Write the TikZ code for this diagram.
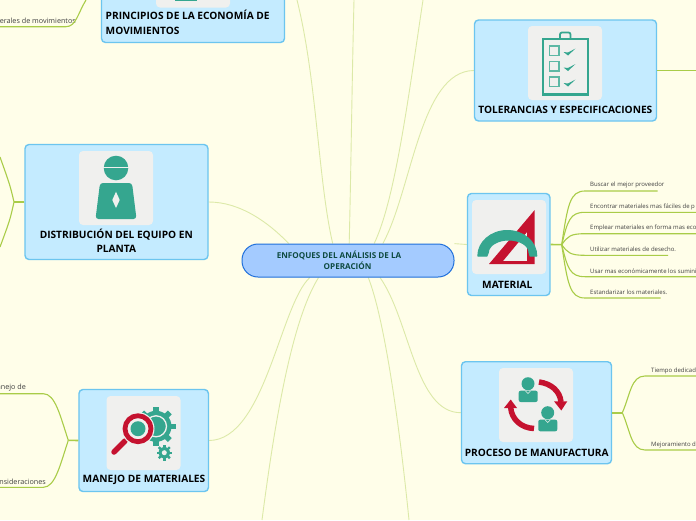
\documentclass[tikz,border=0pt]{standalone}
\usepackage{fontspec}
\setmainfont{Open Sans}
\usetikzlibrary{positioning,calc,backgrounds}
\definecolor{pagebg}{HTML}{FFFEE9}
\definecolor{boxfill}{HTML}{C4EBFF}
\definecolor{boxline}{HTML}{6CC5EF}
\definecolor{mainfill}{HTML}{A4CBFF}
\definecolor{mainline}{HTML}{1F6FDB}
\definecolor{maintext}{HTML}{0E4A40}
\definecolor{tilegrey}{HTML}{F0F0EE}
\definecolor{iconteal}{HTML}{35A68F}
\definecolor{iconred}{HTML}{C5122F}
\definecolor{softgreen}{HTML}{DCE9A8}
\definecolor{leafgreen}{HTML}{A9CC48}
\tikzset{mainbox/.style={draw=mainline,fill=mainfill,line width=1pt,rounded corners=16pt,minimum width=212pt,minimum height=33pt,inner sep=0pt}}
\tikzset{topicbox/.style={draw=boxline,fill=boxfill,line width=1.4pt,rounded corners=4pt,inner sep=0pt}}
\tikzset{tilebox/.style={fill=tilegrey,rounded corners=4pt,minimum size=74pt,inner sep=0pt}}
\tikzset{topictext/.style={font=\bfseries\fontsize{10.15}{14.3}\selectfont,text=black,inner sep=0pt,align=center}}
\tikzset{leaftext/.style={font=\fontsize{6}{7}\selectfont,text=black!75,inner sep=0pt}}
\tikzset{leftleaf/.style={font=\fontsize{7.2}{8}\selectfont,text=black!75,inner sep=0pt,anchor=east}}
\tikzset{softline/.style={draw=softgreen,line width=0.9pt}}
\tikzset{leafline/.style={draw=leafgreen,line width=1.1pt}}
\begin{document}
\begin{tikzpicture}[x=1pt,y=-1pt]
\useasboundingbox (0,0) rectangle (696,520);

\node[mainbox] (main) at (348,260.5) {};
\node[font=\bfseries\fontsize{8.1}{11}\selectfont,text=maintext,align=center,inner sep=0pt] (maintxt) at (339,260.5) {ENFOQUES DEL ANÁLISIS DE LA\\\hspace*{17.2pt}OPERACIÓN};

% topics
\node[topicbox,minimum width=183pt,minimum height=70pt] (principios) at (193,7.5) {};
\node[topicbox,minimum width=183pt,minimum height=115pt] (equipo) at (116.5,202) {};
\node[topicbox,minimum width=182pt,minimum height=101pt] (tolerancias) at (565.5,70.5) {};
\node[topicbox,minimum width=82.5pt,minimum height=102pt] (material) at (508.7,244.5) {};
\node[topicbox,minimum width=150pt,minimum height=102pt] (proceso) at (536.5,412.7) {};
\node[topicbox,minimum width=129.5pt,minimum height=102pt] (manejo) at (143.7,440.5) {};

\node[tilebox] (principiostile) at (193,-29.5) {};
\node[tilebox] (equipotile) at (116,188) {};
\node[tilebox] (toleranciastile) at (565,63) {};
\node[tilebox] (materialtile) at (509,237) {};
\node[tilebox] (procesotile) at (536,405) {};
\node[tilebox] (manejotile) at (143.5,433) {};

\node[topictext,align=left,anchor=north west] (principiostxt) at (105.5,10.3) {PRINCIPIOS DE LA ECONOMÍA DE\\MOVIMIENTOS};
\node[topictext] (equipotxt) at (116.3,241) {DISTRIBUCIÓN DEL EQUIPO EN\\PLANTA};
\node[topictext] (toleranciastxt) at (565.3,110) {TOLERANCIAS Y ESPECIFICACIONES};
\node[topictext] (materialtxt) at (507.3,284.4) {MATERIAL};
\node[topictext] (procesotxt) at (536.7,452.4) {PROCESO DE MANUFACTURA};
\node[topictext] (manejotxt) at (144,480) {MANEJO DE MATERIALES};

% free ends of the lines leaving the page
\coordinate (up1) at (297,0);
\coordinate (up2) at (354,0);
\coordinate (up3) at (423,0);
\coordinate (down1) at (262,520);
\coordinate (down2) at (409,520);

% material leaves
\coordinate (mathub) at (561.7,244.7);
\foreach \i/\y/\e/\t in {1/191/657.7/Buscar el mejor proveedor,
    2/212.3/696/Encontrar materiales mas fáciles de p,
    3/233.7/696/Emplear materiales en forma mas eco,
    4/255.3/668/Utilizar materiales de desecho.,
    5/276.7/696/Usar mas económicamente los sumini,
    6/298/660.7/Estandarizar los materiales.} {
    \coordinate (matleaf\i) at (585,\y);
    \coordinate (matend\i) at (\e,\y);
    \node[leaftext,anchor=west] (mattxt\i) at ($(matleaf\i)+(5,-5.6)$) {\t};
    \draw[leafline] (mathub) .. controls +(6,{0.75*(\y-244.7)}) and +(-15,0) .. (matleaf\i) -- (matend\i);
}
\draw[leafline,line width=1.6pt] (material.east) -- (mathub);

% proceso leaves
\coordinate (prohub) at (622.3,412.7);
\coordinate (proleaf1) at (645,376);
\coordinate (proleaf2) at (645,450);
\coordinate (proend1) at (696,376);
\coordinate (proend2) at (696,450);
\node[leaftext,anchor=west] (protxt1) at (651,371) {Tiempo dedicad};
\node[leaftext,anchor=west] (protxt2) at (651,445) {Mejoramiento d};
\draw[leafline,line width=1.6pt] (proceso.east) -- (prohub);
\draw[leafline] (prohub) .. controls +(8,-18) and +(-14,0) .. (proleaf1) -- (proend1);
\draw[leafline] (prohub) .. controls +(8,18) and +(-14,0) .. (proleaf2) -- (proend2);

% manejo leaves
\coordinate (manhub) at (68.3,440.3);
\coordinate (manleaf1) at (43.3,393.7);
\coordinate (manleaf2) at (43.3,487.3);
\coordinate (manend1) at (0,393.7);
\coordinate (manend2) at (0,487.3);
\node[leftleaf] (mantxt1) at (26,388) {anejo de};
\node[leftleaf] (mantxt2) at (46,481.3) {nsideraciones};
\draw[leafline,line width=1.6pt] (manejo.west) -- (manhub);
\draw[leafline] (manhub) .. controls +(-8,-24) and +(12,0) .. (manleaf1) -- (manend1);
\draw[leafline] (manhub) .. controls +(-8,24) and +(12,0) .. (manleaf2) -- (manend2);

% equipo leaves
\coordinate (equhub) at (14,202);
\coordinate (equend1) at (0,157);
\coordinate (equend2) at (0,247);
\draw[leafline,line width=1.6pt] (equipo.west) -- (equhub);
\draw[leafline] (equhub) .. controls (10,185) .. (equend1);
\draw[leafline] (equhub) .. controls (10,220) .. (equend2);

% principios leaf
\coordinate (prinend) at (86,0);
\coordinate (prinleaf) at (66,26.7);
\coordinate (prinstart) at (0,26.7);
\node[leftleaf] (printxt) at (76,20.7) {erales de movimientos};
\draw[leafline] (prinend) .. controls (78,13) and (76,26.7) .. (prinleaf) -- (prinstart);

% tolerancias leaf
\coordinate (tolend) at (696,70.5);
\draw[leafline,line width=1.4pt] (tolerancias.east) -- (tolend);

\begin{pgfonlayer}{background}
\fill[pagebg] (0,0) rectangle (696,520);
\draw[softline] (equipo.east) .. controls (240,202) and (268,222) .. (main.164);
\draw[softline] (main.132) .. controls (318,180) and (317,80) .. (up1);
\draw[softline] (main.86.5) .. controls (351,170) and (352,80) .. (up2);
\draw[softline] (main.33.4) .. controls (395,200) and (408,100) .. (up3);
\draw[softline] (main.26.6) .. controls (412,190) and (420,71) .. (tolerancias.west);
\draw[softline] (main.9.2) -- (material.west);
\draw[softline] (main.204) .. controls (280,305) and (265,440) .. (manejo.east);
\draw[softline] (main.210.5) .. controls (292,320) and (275,420) .. (down1);
\draw[softline] (main.320.5) .. controls (385,320) and (400,430) .. (down2);
\draw[softline] (main.332.7) .. controls (410,320) and (415,412.7) .. (proceso.west);
\end{pgfonlayer}

% principios icon, only its foot shows
\fill[iconteal] (175,0) rectangle (197,1);

% worker
\begin{scope}[shift={(equipotile.center)}]
    \fill[iconteal] (0,-20) circle (12.3);
    \fill[tilegrey] (-13,-21.5) rectangle (13,-20.7);
    \fill[iconteal,rounded corners=3pt] (-16,-5) -- (16,-5) -- (20.5,31) -- (-20.5,31) -- cycle;
    \fill[tilegrey] (0,3.7) -- (3.7,12) -- (0,20) -- (-3.7,12) -- cycle;
\end{scope}

% clipboard
\begin{scope}[shift={(toleranciastile.center)}]
    \draw[iconteal,line width=2.6pt] (-22,-24) rectangle (23,31.5);
    \draw[iconteal,line width=1.8pt,rounded corners=2pt] (-5,-24) -- (-5,-30.5) -- (5.5,-30.5) -- (5.5,-24);
    \foreach \r in {0,15.5,31} {
        \draw[iconteal!80,line width=1.5pt] (-15.5,{-17+\r}) rectangle (-6,{-7.5+\r});
        \fill[iconteal] (-1.5,{-11+\r}) -- (3,{-7.5+\r}) -- (10.5,{-14.5+\r}) -- (3,{-10.5+\r}) -- cycle;
    }
\end{scope}

% protractor and set square
\begin{scope}[shift={(472,200)}]
    \fill[iconred,even odd rule] (62.7,10) -- (62.7,64) -- (17,64) -- cycle
        (55,32) -- (55,61) -- (31,61) -- cycle;
    \filldraw[iconteal,line width=1pt,line join=round] (5.8,56) arc[x radius=29.5,y radius=25.5,start angle=180,end angle=360] -- (58,56) -- (57,52.5)
        arc[x radius=20.3,y radius=12.5,start angle=0,end angle=-180] -- (15,56) -- cycle;
\end{scope}

% two people and arrows
\begin{scope}[shift={(499,368)}]
    \fill[iconteal] (29,15.7) circle (6.5);
    \fill[iconteal,rounded corners=2pt] (19.7,22.7) rectangle (38.7,34);
    \fill[iconteal] (48.7,44.7) circle (6.5);
    \fill[iconteal,rounded corners=2pt] (39.3,51.7) rectangle (58.3,63.3);
    \draw[tilegrey,line width=0.5pt] (26.5,23) -- (29,25.5) -- (31.5,23);
    \draw[tilegrey,line width=0.5pt] (46.2,52) -- (48.7,54.5) -- (51.2,52);
    \draw[iconred,line width=5.5pt] (40,14) .. controls (52,15.5) and (61,23) .. (62,34);
    \fill[iconred] (55,33.3) -- (68.3,33.3) -- (62.3,42.5) -- cycle;
    \draw[iconred,line width=5.5pt] (35,60.5) .. controls (22,60) and (12.5,51) .. (11.7,39.5);
    \fill[iconred] (5,40) -- (18,40) -- (11.7,31.5) -- cycle;
\end{scope}

% gears and magnifier
\begin{scope}[shift={(106,396)}]
    \fill[iconteal] (50,30.3) circle (15.5);
    \foreach \a in {0,45,...,315} {
        \draw[iconteal,line width=5.5pt] (50,30.3) ++(\a:14) -- ++(\a:5.5);
    }
    \draw[tilegrey,line width=1.3pt] (50,30.3) circle (10.5);
    \fill[iconteal] (58.3,56.7) circle (5.7);
    \foreach \a in {0,45,...,315} {
        \draw[iconteal,line width=2.4pt] (58.3,56.7) ++(\a:5) -- ++(\a:2.8);
    }
    \fill[tilegrey] (58.3,56.7) circle (2.5);
    \draw[iconred,line width=5.5pt,line cap=round] (8,56) -- (19,45);
    \fill[tilegrey] (32,32.7) circle (16.5);
    \draw[iconred,line width=4.8pt] (32,32.7) circle (13);
    \fill[iconteal] (32,32.7) circle (7.5);
\end{scope}
\end{tikzpicture}
\end{document}
